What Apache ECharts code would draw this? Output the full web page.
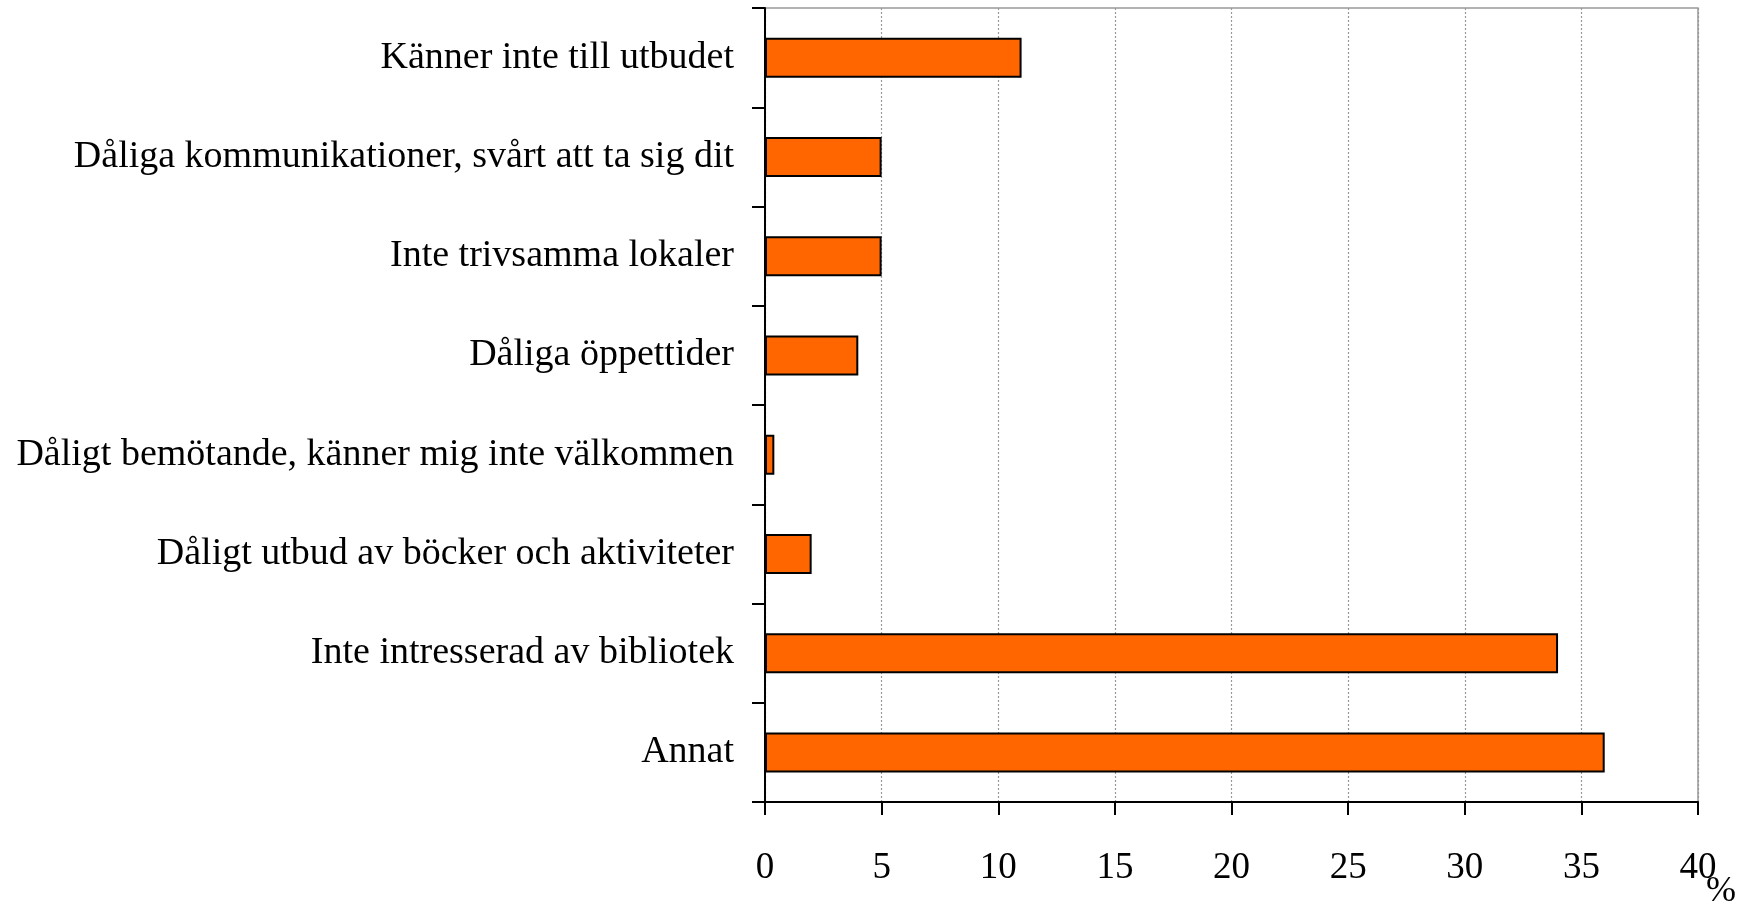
<!DOCTYPE html>
<html>
<head>
<meta charset="utf-8">
<script src="https://cdn.jsdelivr.net/npm/echarts@6/dist/echarts.min.js"></script>
<style>
html,body{margin:0;padding:0;background:#fff;}
#chart{width:1754px;height:908px;}
</style>
</head>
<body>
<div id="chart"></div>
<script>
const categories = [
  'Känner inte till utbudet',
  'Dåliga kommunikationer, svårt att ta sig dit',
  'Inte trivsamma lokaler',
  'Dåliga öppettider',
  'Dåligt bemötande, känner mig inte välkommen',
  'Dåligt utbud av böcker och aktiviteter',
  'Inte intresserad av bibliotek',
  'Annat'
];
const values = [11, 5, 5, 4, 0.4, 2, 34, 36];
const xTicks = [0, 5, 10, 15, 20, 25, 30, 35, 40];

const chart = echarts.init(document.getElementById('chart'));
chart.setOption({
  animation: false,
  backgroundColor: '#fff',
  grid: {
    left: 765, right: 56, top: 8, bottom: 106,
    containLabel: false,
    outerBoundsMode: 'none',
    show: true, borderColor: '#999', borderWidth: 1.5, backgroundColor: 'transparent'
  },
  xAxis: {
    type: 'value',
    min: xTicks[0], max: xTicks[xTicks.length - 1], interval: 5,
    name: '%',
    nameLocation: 'end',
    nameGap: 8,
    nameMoveOverlap: false,
    nameTextStyle: {
      fontFamily: 'Liberation Serif', fontSize: 36, color: '#000',
      align: 'left', verticalAlign: 'top', padding: [72, 0, 0, 0]
    },
    axisLine: { show: true, lineStyle: { color: '#000', width: 2 } },
    axisTick: { show: true, length: 13, inside: false, lineStyle: { color: '#000', width: 2 } },
    axisLabel: {
      fontFamily: 'Liberation Serif', fontSize: 37, color: '#000', margin: 48
    },
    splitLine: { show: true, lineStyle: { color: '#999', width: 1.2, type: [2, 2] } }
  },
  yAxis: {
    type: 'category',
    data: categories,
    inverse: true,
    axisLine: { show: true, lineStyle: { color: '#000', width: 2 } },
    axisTick: { show: true, length: 13, lineStyle: { color: '#000', width: 2 } },
    axisLabel: {
      fontFamily: 'Liberation Serif', fontSize: 38, color: '#000', margin: 31,
      padding: [4, 0, 0, 0]
    },
    splitLine: { show: false }
  },
  series: [{
    type: 'bar',
    data: values,
    barWidth: 40,
    itemStyle: { color: '#FF6600', borderColor: '#000', borderWidth: 2 }
  }]
});
</script>
</body>
</html>
